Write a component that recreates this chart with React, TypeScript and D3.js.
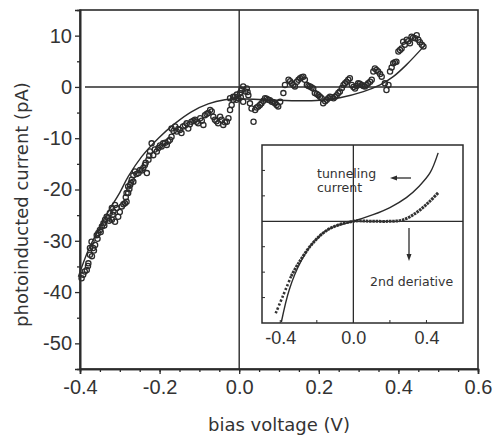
import React, { useEffect, useRef } from 'react';
import * as d3 from 'd3';

// measured points: bias voltage (V) / photoinduced current (pA)
const scatterX = [
  -0.396, -0.392, -0.383, -0.379, -0.375, -0.375, -0.367, -0.362, -0.371, -0.358,
  -0.354, -0.35, -0.345, -0.341, -0.337, -0.333, -0.329, -0.32, -0.312, -0.304,
  -0.316, -0.325, -0.32, -0.308, -0.295, -0.287, -0.283, -0.312, -0.279, -0.274,
  -0.266, -0.283, -0.279, -0.27, -0.266, -0.262, -0.253, -0.249, -0.241, -0.232,
  -0.237, -0.228, -0.224, -0.22, -0.216, -0.207, -0.203, -0.195, -0.191, -0.182,
  -0.174, -0.17, -0.17, -0.161, -0.157, -0.149, -0.145, -0.141, -0.132, -0.128,
  -0.12, -0.111, -0.103, -0.098, -0.09, -0.086, -0.078, -0.073, -0.069, -0.065,
  -0.061, -0.053, -0.048, -0.044, -0.04, -0.031, -0.027, -0.023, -0.015, -0.011,
  -0.002, 0.002, 0.006, -0.023, -0.015, -0.007, 0.006, 0.01, 0.015, 0.019,
  0.023, 0.01, 0.027, 0.031, 0.04, 0.036, 0.048, 0.056, 0.065, 0.073,
  0.082, 0.09, 0.098, 0.103, 0.111, 0.115, 0.124, 0.132, 0.14, 0.145,
  0.153, 0.161, 0.165, 0.17, 0.178, 0.186, 0.19, 0.199, 0.207, 0.211,
  0.22, 0.228, 0.237, 0.245, 0.253, 0.262, 0.27, 0.278, 0.283, 0.291,
  0.299, 0.308, 0.316, 0.324, 0.333, 0.337, 0.341, 0.349, 0.358, 0.366,
  0.37, 0.375, 0.379, 0.387, 0.395, 0.4, 0.408, 0.412, 0.421, 0.429,
  0.433, 0.442, 0.446, 0.45, 0.459, 0.463,
  -0.388, -0.38, -0.37, -0.365, -0.356, -0.348, -0.339, -0.327, -0.318, -0.3,
  -0.291, -0.285, -0.276, -0.272, -0.258, -0.245, -0.235, -0.226, -0.212, -0.199,
  -0.186, -0.178, -0.165, -0.153, -0.136, -0.124, -0.115, -0.107, -0.094, -0.082,
  -0.057, -0.036, -0.019, -0.006, 0.004, 0.021, 0.044, 0.052, 0.061, 0.069,
  0.077, 0.086, 0.094, 0.128, 0.136, 0.149, 0.157, 0.174, 0.182, 0.195,
  0.203, 0.216, 0.224, 0.232, 0.241, 0.249, 0.258, 0.266, 0.274, 0.287,
  0.295, 0.303, 0.312, 0.32, 0.329, 0.345, 0.354, 0.383, 0.391, 0.404,
  0.416, 0.425, 0.437, 0.454,
];
const scatterY = [
  -37.3, -36.6, -35.7, -34.4, -32.7, -31.4, -31.4, -30.8, -30.2, -28.9,
  -28.5, -27.9, -27.2, -26.6, -25.9, -25.3, -25.6, -25.9, -26.3, -25.3,
  -24.3, -24.6, -23.6, -23.6, -23.3, -22.7, -22.4, -23.0, -20.7, -19.1,
  -18.5, -20.7, -19.4, -18.1, -17.2, -16.5, -16.8, -16.2, -15.8, -16.8,
  -15.2, -14.2, -12.6, -11.0, -13.3, -12.6, -11.9, -11.6, -11.0, -11.3,
  -10.3, -9.7, -8.1, -7.7, -8.7, -8.4, -9.0, -7.7, -7.1, -8.1,
  -6.8, -6.4, -7.1, -6.1, -7.4, -5.5, -5.1, -4.5, -4.8, -5.8,
  -6.4, -7.1, -5.8, -6.4, -7.4, -6.8, -6.1, -4.5, -2.5, -1.9,
  -2.2, -1.2, -0.6, -2.2, -1.9, -2.5, -0.6, 0.1, -0.9, -0.3,
  -1.6, -2.9, -3.2, -4.2, -4.5, -6.8, -3.8, -3.2, -2.2, -2.5,
  -2.9, -3.2, -3.8, -2.9, -1.2, 0.4, 1.4, 0.7, 0.1, 1.0,
  1.7, 2.0, 1.4, 0.4, 0.1, -0.3, -1.2, -1.6, -2.2, -3.2,
  -2.5, -1.9, -2.2, -1.6, -0.9, 0.4, 1.0, 1.7, 0.4, -0.3,
  0.7, 0.4, 0.1, 0.7, 1.4, 3.0, 3.6, 3.0, 2.0, 0.7,
  -0.6, 0.4, 3.0, 4.6, 4.9, 6.9, 7.5, 8.8, 9.2, 8.5,
  9.8, 9.5, 10.1, 9.2, 8.2, 7.9,
  -36.0, -34.9, -33.0, -31.9, -29.6, -28.3, -27.0, -26.1, -24.9, -24.4,
  -22.9, -21.5, -19.9, -18.7, -17.0, -16.3, -14.8, -13.4, -12.2, -11.4,
  -10.9, -10.6, -8.6, -8.2, -7.5, -7.3, -6.6, -6.8, -6.6, -5.3,
  -6.7, -6.9, -3.5, -1.5, -2.0, -1.0, -4.0, -3.5, -2.7, -2.3,
  -2.6, -3.0, -3.5, 1.1, 0.4, 1.4, 1.9, 0.2, -0.1, -1.4,
  -1.9, -2.8, -2.2, -2.0, -1.9, -1.2, -0.2, 0.7, 1.4, 0.0,
  0.2, 0.6, 0.2, 0.4, 1.0, 3.3, 2.5, 3.8, 4.8, 7.2,
  8.2, 8.9, 9.6, 8.7,
];

// fitted curve
const fitX = [-0.404, -0.379, -0.354, -0.329, -0.3, -0.279, -0.245, -0.203, -0.161, -0.119,
  -0.078, -0.036, 0.0, 0.06, 0.144, 0.203, 0.253, 0.312, 0.354, 0.387, 0.42, 0.465];
const fitY = [-37.0, -31.8, -27.9, -24.3, -20.6, -17.5, -13.6, -10.0, -7.1, -4.8,
  -3.3, -2.5, -2.3, -2.5, -2.7, -2.6, -2.1, -0.9, 0.4, 2.0, 4.3, 8.0];

// inset: tunneling current and its 2nd derivative (arb. units)
const tunnelX = [-0.394, -0.35, -0.29, -0.22, -0.13, 0, 0.108, 0.2, 0.29, 0.36, 0.42, 0.464];
const tunnelY = [-3.96, -2.67, -1.62, -0.84, -0.29, 0, 0.26, 0.54, 0.93, 1.38, 1.91, 2.69];
const derivTailX = [-0.425, -0.385, -0.34];
const derivTailY = [-3.62, -2.93, -2.15];
const derivX = [-0.34, -0.3, -0.22, -0.13, 0, 0.1, 0.2, 0.27, 0.345, 0.41, 0.464];
const derivY = [-2.15, -1.65, -0.84, -0.29, 0, 0.0, 0.0, 0.05, 0.34, 0.73, 1.12];

const xTicks = [-0.4, -0.2, 0.0, 0.2, 0.4, 0.6];
const yTicks = [-50, -40, -30, -20, -10, 0, 10];
const insetXTicks = [-0.4, 0.0, 0.4];

const ink = '#2b2b2b';

function App() {
  const ref = useRef<SVGSVGElement>(null);

  useEffect(() => {
    const svg = d3.select(ref.current);
    svg.selectAll('*').remove();

    const margin = { top: 10, right: 17, bottom: 68, left: 80 };
    const W = 495, H = 437;
    const x = d3.scaleLinear().domain([-0.4, 0.6]).range([margin.left, W - margin.right]);
    const y = d3.scaleLinear().domain([-55, 15]).range([H - margin.bottom, margin.top]);

    const g = svg.append('g');

    // zero lines
    g.append('line')
      .attr('x1', x(-0.4) + 5).attr('x2', x(0.6))
      .attr('y1', y(0)).attr('y2', y(0))
      .attr('stroke', ink).attr('stroke-width', 1.4);
    g.append('line')
      .attr('x1', x(0)).attr('x2', x(0))
      .attr('y1', y(15)).attr('y2', y(-55))
      .attr('stroke', ink).attr('stroke-width', 1.4);

    // frame
    g.append('rect')
      .attr('x', x(-0.4)).attr('y', y(15))
      .attr('width', x(0.6) - x(-0.4)).attr('height', y(-55) - y(15))
      .attr('fill', 'none').attr('stroke', ink).attr('stroke-width', 1.6);

    // x axis
    const xAxis = g.append('g')
      .attr('transform', `translate(0, ${y(-55)})`)
      .call(d3.axisBottom(x).tickValues(xTicks).tickSize(5).tickPadding(6)
        .tickFormat(d3.format('.1f')));
    xAxis.append('g').call(d3.axisBottom(x).tickValues(d3.range(-0.35, 0.6, 0.05)).tickSize(3).tickFormat(() => ''));

    // y axis
    const yAxis = g.append('g')
      .attr('transform', `translate(${x(-0.4)}, 0)`)
      .call(d3.axisLeft(y).tickValues(yTicks).tickSize(5).tickPadding(3));
    yAxis.append('g').call(d3.axisLeft(y).tickValues([-45, -35, -25, -15, -5, 5]).tickSize(3).tickFormat(() => ''));

    svg.selectAll('.domain').attr('stroke', ink).attr('stroke-width', 1.6);
    svg.selectAll('.tick line').attr('stroke', ink).attr('stroke-width', 1.3);
    svg.selectAll('.tick text')
      .attr('fill', '#333')
      .style('font-family', '"Liberation Sans", Arial, sans-serif')
      .style('font-size', '20px')
      .text(function () { return d3.select(this).text().replace('−', '-'); });

    // axis titles
    svg.append('text')
      .attr('x', (x(-0.4) + x(0.6)) / 2).attr('y', 431)
      .attr('text-anchor', 'middle')
      .attr('fill', '#333')
      .style('font-family', '"DejaVu Sans", sans-serif')
      .style('font-size', '18px')
      .text('bias voltage (V)');
    svg.append('text')
      .attr('transform', `translate(28, ${y(-20) + 15}) rotate(-90)`)
      .attr('text-anchor', 'middle')
      .attr('fill', '#333')
      .style('font-family', '"DejaVu Sans", sans-serif')
      .style('font-size', '18px')
      .text('photoinducted current (pA)');

    // fit
    const fit = fitX.map((v, i) => [v, fitY[i]] as [number, number]);
    g.append('path')
      .datum(fit)
      .attr('fill', 'none')
      .attr('stroke', ink)
      .attr('stroke-width', 1.4)
      .attr('d', d3.line().x(d => x(d[0])).y(d => y(d[1])).curve(d3.curveCatmullRom));

    // data points
    g.append('g')
      .selectAll('circle')
      .data(scatterX.map((v, i) => [v, scatterY[i]]))
      .join('circle')
      .attr('cx', d => x(d[0]))
      .attr('cy', d => y(d[1]))
      .attr('r', 2.6)
      .attr('fill', 'none')
      .attr('stroke', ink)
      .attr('stroke-width', 1.3);

    // inset
    const ix = d3.scaleLinear().domain([-0.5, 0.6]).range([262, 463]);
    const iy = d3.scaleLinear().domain([-4, 3]).range([323, 145]);
    const inset = svg.append('g');

    inset.append('rect')
      .attr('x', ix(-0.5)).attr('y', iy(3))
      .attr('width', ix(0.6) - ix(-0.5)).attr('height', iy(-4) - iy(3))
      .attr('fill', 'white').attr('stroke', ink).attr('stroke-width', 1.5);
    inset.append('line')
      .attr('x1', ix(-0.5)).attr('x2', ix(0.6)).attr('y1', iy(0)).attr('y2', iy(0))
      .attr('stroke', ink).attr('stroke-width', 1.3);
    inset.append('line')
      .attr('x1', ix(0)).attr('x2', ix(0)).attr('y1', iy(3)).attr('y2', iy(-4))
      .attr('stroke', ink).attr('stroke-width', 1.3);

    const ixAxis = inset.append('g')
      .attr('transform', `translate(0, ${iy(-4)})`)
      .call(d3.axisBottom(ix).tickValues(insetXTicks).tickSize(0).tickPadding(8).tickFormat(d3.format('.1f')));
    ixAxis.select('.domain').remove();
    ixAxis.selectAll('text')
      .attr('fill', '#333')
      .style('font-family', '"Liberation Sans", Arial, sans-serif')
      .style('font-size', '18px')
      .text(function () { return d3.select(this).text().replace('−', '-'); });
    inset.append('g')
      .selectAll('line')
      .data([-0.4, -0.2, 0.2, 0.4])
      .join('line')
      .attr('x1', d => ix(d)).attr('x2', d => ix(d))
      .attr('y1', iy(-4)).attr('y2', iy(-4) - 3)
      .attr('stroke', ink);
    inset.append('g')
      .selectAll('line')
      .data([-3, -2, -1, 1, 2])
      .join('line')
      .attr('x1', ix(-0.5)).attr('x2', ix(-0.5) + 3)
      .attr('y1', d => iy(d)).attr('y2', d => iy(d))
      .attr('stroke', ink);

    const iline = d3.line<[number, number]>().x(d => ix(d[0])).y(d => iy(d[1])).curve(d3.curveCatmullRom);
    inset.append('path')
      .datum(derivTailX.map((v, i) => [v, derivTailY[i]] as [number, number]))
      .attr('fill', 'none').attr('stroke', '#333').attr('stroke-width', 2.6)
      .attr('stroke-dasharray', '2.2 2')
      .attr('d', iline);
    inset.append('path')
      .datum(derivX.map((v, i) => [v, derivY[i]] as [number, number]))
      .attr('fill', 'none').attr('stroke', '#333').attr('stroke-width', 3)
      .attr('stroke-dasharray', '2.5 0.8')
      .attr('d', iline);
    inset.append('path')
      .datum(tunnelX.map((v, i) => [v, tunnelY[i]] as [number, number]))
      .attr('fill', 'none').attr('stroke', ink).attr('stroke-width', 1.4)
      .attr('d', iline);

    const lbl = (t: string, px: number, py: number) =>
      inset.append('text').attr('x', px).attr('y', py)
        .attr('fill', '#333')
        .style('font-family', '"DejaVu Sans", sans-serif')
        .style('font-size', '12.5px')
        .text(t);
    lbl('tunneling', 317, 178);
    lbl('current', 317, 192);
    lbl('2nd deriative', 370, 286);

    // arrows
    inset.append('line').attr('x1', 411).attr('x2', 394).attr('y1', 178).attr('y2', 178)
      .attr('stroke', ink).attr('stroke-width', 1.3);
    inset.append('path').attr('d', 'M390,178 L397,175.5 L397,180.5 Z').attr('fill', ink);
    inset.append('line').attr('x1', 409).attr('x2', 409).attr('y1', 228).attr('y2', 256)
      .attr('stroke', ink).attr('stroke-width', 1.3);
    inset.append('path').attr('d', 'M409,261 L406.5,254 L411.5,254 Z').attr('fill', ink);
  }, []);

  return (
    <svg ref={ref} width={495} height={437}
      style={{ position: 'absolute', left: 0, top: 0, background: 'white' }} />
  );
}

export default App;
